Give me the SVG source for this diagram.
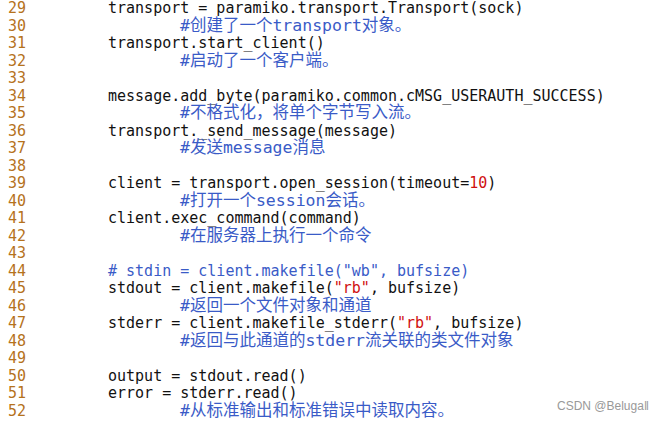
<svg xmlns="http://www.w3.org/2000/svg" width="665" height="421" viewBox="0 0 665 421">
<style>
text{font-family:"DejaVu Sans Mono","Noto Sans CJK SC",monospace;font-size:15px;white-space:pre}
.n{fill:#b5721c}.c{fill:#111}.m{fill:#3a5bc7}.s{fill:#d01010}.k{font-size:16.5px}
.w{font-family:"Liberation Sans",Arial,sans-serif;font-size:12px;fill:#999}
</style>
<rect width="665" height="421" fill="#fff"/>
<g id="numbers" class="n">
<text x="8" y="13">29</text><text x="8" y="30.5">30</text><text x="8" y="48">31</text><text x="8" y="65.5">32</text><text x="8" y="83">33</text><text x="8" y="100.5">34</text><text x="8" y="118">35</text><text x="8" y="135.5">36</text><text x="8" y="153">37</text><text x="8" y="170.5">38</text><text x="8" y="188">39</text><text x="8" y="205.5">40</text><text x="8" y="223">41</text><text x="8" y="240.5">42</text><text x="8" y="258">43</text><text x="8" y="275.5">44</text><text x="8" y="293">45</text><text x="8" y="310.5">46</text><text x="8" y="328">47</text><text x="8" y="345.5">48</text><text x="8" y="363">49</text><text x="8" y="380.5">50</text><text x="8" y="398">51</text><text x="8" y="415.5">52</text>
</g>
<g id="code" class="c">
<text x="108" y="13">transport = paramiko.transport.Transport(sock)</text>
<text x="180" y="30.5" class="m k">#创建了一个transport对象。</text>
<text x="108" y="48">transport.start_client()</text>
<text x="180" y="65.5" class="m k">#启动了一个客户端。</text>
<text x="108" y="100.5">message.add_byte(paramiko.common.cMSG_USERAUTH_SUCCESS)</text>
<text x="180" y="118" class="m k">#不格式化，将单个字节写入流。</text>
<text x="108" y="135.5">transport._send_message(message)</text>
<text x="180" y="153" class="m k">#发送message消息</text>
<text x="108" y="188">client = transport.open_session(timeout=<tspan class="s">10</tspan>)</text>
<text x="180" y="205.5" class="m k">#打开一个session会话。</text>
<text x="108" y="223">client.exec_command(command)</text>
<text x="180" y="240.5" class="m k">#在服务器上执行一个命令</text>
<text x="108" y="275.5" class="m"># stdin = client.makefile("wb", bufsize)</text>
<text x="108" y="293">stdout = client.makefile(<tspan class="s">"rb"</tspan>, bufsize)</text>
<text x="180" y="310.5" class="m k">#返回一个文件对象和通道</text>
<text x="108" y="328">stderr = client.makefile_stderr(<tspan class="s">"rb"</tspan>, bufsize)</text>
<text x="180" y="345.5" class="m k">#返回与此通道的stderr流关联的类文件对象</text>
<text x="108" y="380.5">output = stdout.read()</text>
<text x="108" y="398">error = stderr.read()</text>
<text x="180" y="415.5" class="m k">#从标准输出和标准错误中读取内容。</text>
</g>
<text class="w" x="557" y="410">CSDN @Beluga‖</text>
</svg>
